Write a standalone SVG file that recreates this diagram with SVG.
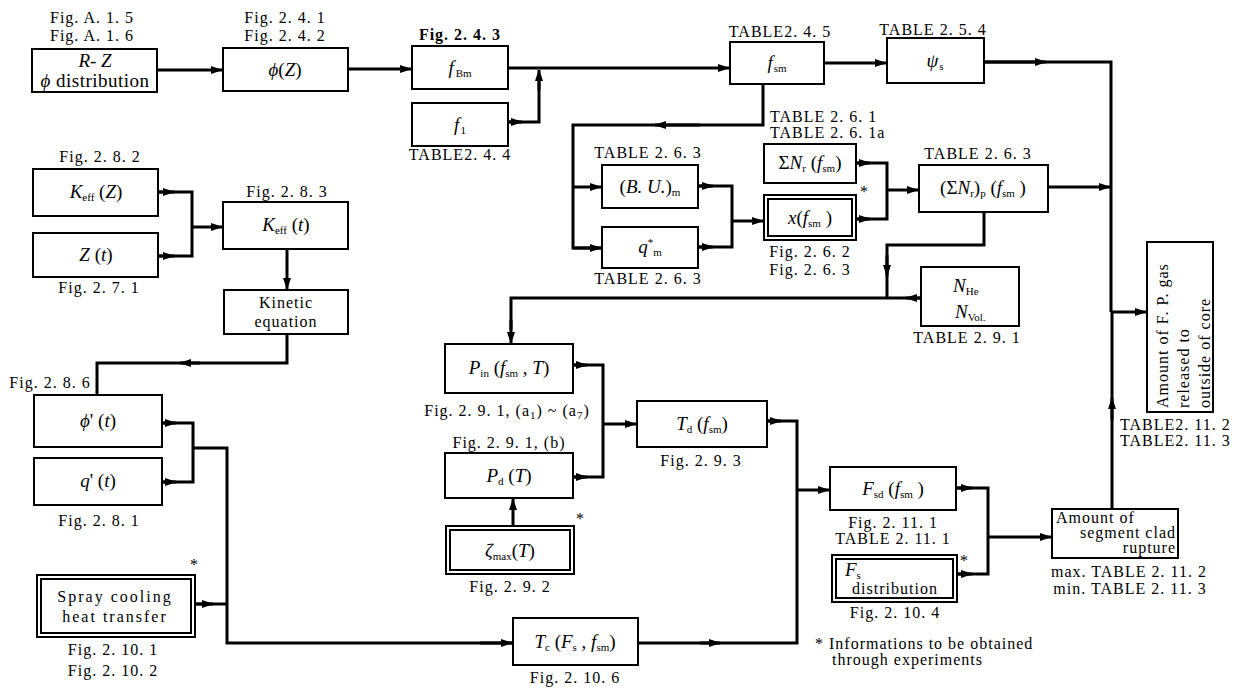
<svg xmlns="http://www.w3.org/2000/svg" width="1245" height="689" viewBox="0 0 1245 689" font-family="'Liberation Serif', 'DejaVu Serif', serif">
<defs>
<style>
.box{fill:#fff;stroke:#000;stroke-width:2}
.ln{fill:none;stroke:#000;stroke-width:3}
.ar{fill:none;stroke:#000;stroke-width:3;marker-end:url(#ah)}
.t{font-family:'Liberation Serif','DejaVu Serif',serif;font-size:16px;fill:#000;letter-spacing:1px}
.b{font-family:'Liberation Serif','DejaVu Serif',serif;font-size:19px;fill:#000}
.m{text-anchor:middle}
.e{text-anchor:end}
.i{font-style:italic}
.s{font-size:11px;font-style:normal}
.w{letter-spacing:2px}
</style>
<marker id="ah" viewBox="0 0 12 8" refX="11" refY="4" markerWidth="12" markerHeight="8" markerUnits="userSpaceOnUse" orient="auto">
<path d="M0,0 L12,4 L0,8 z" fill="#000"/>
</marker>
</defs>
<rect width="1245" height="689" fill="#fff"/>

<g id="connectors">
<path class="ar" d="M157,70 H222"/>
<path class="ar" d="M348,69 H411"/>
<path class="ar" d="M508,68 H729"/>
<path class="ln" d="M508,122 H539 V80"/>
<path class="ar" d="M539,90 V70"/>
<path class="ar" d="M508,122 H522"/>
<path class="ar" d="M824,63 H886"/>
<path class="ln" d="M984,62 H1111 V312"/>
<path class="ar" d="M984,62 H1046"/>
<path class="ln" d="M1112,509 V312"/>
<path class="ar" d="M1112,420 V398"/>
<path class="ar" d="M1111,312 H1146"/>
<path class="ar" d="M1048,187 H1110"/>
<path class="ln" d="M763,84 V125 H573 V248 H601"/>
<path class="ar" d="M700,125 H655"/>
<path class="ar" d="M573,187 H601"/>
<path class="ar" d="M573,248 H601"/>
<path class="ln" d="M698,186 H732 V247 H698"/>
<path class="ar" d="M698,186 H713"/>
<path class="ar" d="M698,247 H713"/>
<path class="ar" d="M732,221 H763"/>
<path class="ln" d="M856,163 H887 V219 H856"/>
<path class="ar" d="M856,163 H870"/>
<path class="ar" d="M856,219 H870"/>
<path class="ar" d="M887,190 H918"/>
<path class="ln" d="M984,212 V245 H887 V298"/>
<path class="ar" d="M887,255 V276"/>
<path class="ln" d="M921,298 H511 V330"/>
<path class="ar" d="M921,298 H906"/>
<path class="ar" d="M511,320 V343"/>
<path class="ln" d="M158,192 H192 V256 H158"/>
<path class="ar" d="M158,192 H174"/>
<path class="ar" d="M158,256 H174"/>
<path class="ar" d="M192,227 H222"/>
<path class="ar" d="M287,249 V289"/>
<path class="ln" d="M287,334 V363 H97 V395"/>
<path class="ar" d="M200,363 H180"/>
<path class="ln" d="M162,423 H193 V482 H162"/>
<path class="ar" d="M162,423 H176"/>
<path class="ar" d="M162,482 H176"/>
<path class="ln" d="M193,448 H227 V643 H512"/>
<path class="ln" d="M195,604 H227"/>
<path class="ar" d="M195,604 H213"/>
<path class="ar" d="M480,643 H512"/>
<path class="ln" d="M573,365 H603 V477 H573"/>
<path class="ar" d="M573,365 H587"/>
<path class="ar" d="M573,477 H587"/>
<path class="ar" d="M603,424 H636"/>
<path class="ar" d="M513,526 V499"/>
<path class="ln" d="M767,421 H797 V643 H638"/>
<path class="ar" d="M767,421 H781"/>
<path class="ar" d="M700,643 H720"/>
<path class="ar" d="M797,490 H829"/>
<path class="ln" d="M956,488 H988 V574 H957"/>
<path class="ar" d="M956,488 H972"/>
<path class="ar" d="M957,574 H972"/>
<path class="ar" d="M988,537 H1051"/>
</g>

<g id="n-rz">
<text class="t m" x="92" y="23">Fig. A. 1. 5</text>
<text class="t m" x="92" y="41">Fig. A. 1. 6</text>
<rect class="box" x="32" y="49" width="125" height="43"/>
<text class="b m i" x="95" y="67" font-size="18">R- Z</text>
<text class="b m" x="95" y="87" font-size="18" letter-spacing="0.5"><tspan class="i">ϕ</tspan> distribution</text>
</g>

<g id="n-phiz">
<text class="t m" x="285" y="23">Fig. 2. 4. 1</text>
<text class="t m" x="285" y="41">Fig. 2. 4. 2</text>
<rect class="box" x="223" y="48" width="125" height="43"/>
<text class="b m" x="285" y="76" font-size="20"><tspan class="i">ϕ</tspan>(<tspan class="i">Z</tspan>)</text>
</g>

<g id="n-fbm">
<text class="t m" x="460" y="40" font-weight="bold">Fig. 2. 4. 3</text>
<rect class="box" x="412" y="46" width="96" height="43"/>
<text class="b m" x="460" y="74"><tspan class="i">f</tspan><tspan class="s" dx="2" dy="3">Bm</tspan></text>
</g>

<g id="n-f1">
<rect class="box" x="412" y="103" width="96" height="43"/>
<text class="b m" x="460" y="131"><tspan class="i">f</tspan><tspan class="s" dx="1" dy="3">1</tspan></text>
<text class="t m" x="460" y="160">TABLE2. 4. 4</text>
</g>

<g id="n-fsm">
<text class="t m" x="780" y="37">TABLE2. 4. 5</text>
<rect class="box" x="730" y="42" width="94" height="42"/>
<text class="b m" x="777" y="69"><tspan class="i">f</tspan><tspan class="s" dx="1" dy="3">sm</tspan></text>
</g>

<g id="n-psi">
<text class="t m" x="933" y="35">TABLE 2. 5. 4</text>
<rect class="box" x="887" y="38" width="97" height="45"/>
<text class="b m" x="935" y="67"><tspan class="i">ψ</tspan><tspan class="s" dx="1" dy="3">s</tspan></text>
</g>

<g id="n-tables261">
<text class="t" x="770" y="122">TABLE 2. 6. 1</text>
<text class="t" x="770" y="138">TABLE 2. 6. 1a</text>
</g>

<g id="n-bu">
<text class="t m" x="648" y="158">TABLE 2. 6. 3</text>
<rect class="box" x="602" y="165" width="96" height="43"/>
<text class="b m" x="650" y="193">(<tspan class="i">B. U.</tspan>)<tspan class="s" dy="3">m</tspan></text>
</g>

<g id="n-qm">
<rect class="box" x="602" y="227" width="96" height="41"/>
<text class="b m" x="650" y="253"><tspan class="i">q</tspan><tspan class="s" dy="-7">*</tspan><tspan class="s" dy="10">m</tspan></text>
<text class="t m" x="648" y="284">TABLE 2. 6. 3</text>
</g>

<g id="n-sumnr">
<rect class="box" x="764" y="144" width="92" height="39"/>
<text class="b m" x="810" y="169" font-size="17">Σ<tspan class="i">N</tspan><tspan class="s" dy="3">r</tspan><tspan dy="-3"> (</tspan><tspan class="i">f</tspan><tspan class="s" dy="3">sm</tspan><tspan dy="-3">)</tspan></text>
</g>

<g id="n-x">
<rect class="box" x="764" y="195" width="92" height="45"/>
<rect class="box" x="768" y="199" width="84" height="37"/>
<text class="b m" x="810" y="224"><tspan class="i">x</tspan>(<tspan class="i">f</tspan><tspan class="s" dy="3">sm</tspan><tspan dy="-3"> )</tspan></text>
<text class="t" x="860" y="197" font-size="13">*</text>
<text class="t m" x="810" y="257">Fig. 2. 6. 2</text>
<text class="t m" x="810" y="275">Fig. 2. 6. 3</text>
</g>

<g id="n-sumnrp">
<text class="t m" x="978" y="159">TABLE 2. 6. 3</text>
<rect class="box" x="919" y="165" width="129" height="47"/>
<text class="b m" x="983" y="194" font-size="18">(Σ<tspan class="i">N</tspan><tspan class="s" dy="3">r</tspan><tspan dy="-3">)</tspan><tspan class="s" dy="3">p</tspan><tspan dy="-3">  (</tspan><tspan class="i">f</tspan><tspan class="s" dy="3">sm</tspan><tspan dy="-3"> )</tspan></text>
</g>

<g id="n-nhe">
<rect class="box" x="921" y="267" width="98" height="59"/>
<text class="b" x="953" y="292"><tspan class="i">N</tspan><tspan class="s" dy="3">He</tspan></text>
<text class="b" x="955" y="318"><tspan class="i">N</tspan><tspan class="s" dy="3">Vol.</tspan></text>
<text class="t m" x="967" y="343">TABLE 2. 9. 1</text>
</g>

<g id="n-final">
<rect class="box" x="1147" y="242" width="66" height="170"/>
<text class="t" font-size="17" transform="translate(1168,408) rotate(-90)">Amount of F. P. gas</text>
<text class="t" font-size="17" transform="translate(1189,408) rotate(-90)">released to</text>
<text class="t" font-size="17" transform="translate(1210,408) rotate(-90)">outside of core</text>
<text class="t" x="1120" y="430">TABLE2. 11. 2</text>
<text class="t" x="1120" y="446">TABLE2. 11. 3</text>
</g>

<g id="n-keffz">
<text class="t m" x="100" y="162">Fig. 2. 8. 2</text>
<rect class="box" x="33" y="169" width="125" height="47"/>
<text class="b m" x="96" y="198"><tspan class="i">K</tspan><tspan class="s" dy="3">eff</tspan><tspan dy="-3">  (</tspan><tspan class="i">Z</tspan>)</text>
</g>

<g id="n-zt">
<rect class="box" x="33" y="233" width="125" height="44"/>
<text class="b m" x="96" y="261"><tspan class="i">Z</tspan>  (<tspan class="i">t</tspan>)</text>
<text class="t m" x="99" y="293">Fig. 2. 7. 1</text>
</g>

<g id="n-kefft">
<text class="t m" x="287" y="197">Fig. 2. 8. 3</text>
<rect class="box" x="223" y="202" width="125" height="47"/>
<text class="b m" x="286" y="231"><tspan class="i">K</tspan><tspan class="s" dy="3">eff</tspan><tspan dy="-3"> (</tspan><tspan class="i">t</tspan>)</text>
</g>

<g id="n-kinetic">
<rect class="box" x="224" y="290" width="124" height="44"/>
<text class="t m" x="286" y="308">Kinetic</text>
<text class="t m" x="286" y="327">equation</text>
</g>

<g id="n-phit">
<text class="t m" x="50" y="388">Fig. 2. 8. 6</text>
<rect class="box" x="34" y="395" width="128" height="52"/>
<text class="b m" x="98" y="427"><tspan class="i">ϕ</tspan>' (<tspan class="i">t</tspan>)</text>
</g>

<g id="n-qt">
<rect class="box" x="34" y="458" width="128" height="47"/>
<text class="b m" x="98" y="487"><tspan class="i">q</tspan>' (<tspan class="i">t</tspan>)</text>
<text class="t m" x="99" y="526">Fig. 2. 8. 1</text>
</g>

<g id="n-spray">
<rect class="box" x="37" y="575" width="158" height="62"/>
<rect class="box" x="41" y="579" width="150" height="54"/>
<text class="t m w" x="115" y="602">Spray cooling</text>
<text class="t m w" x="115" y="622">heat transfer</text>
<text class="t" x="190" y="570" font-size="13">*</text>
<text class="t m" x="113" y="655">Fig. 2. 10. 1</text>
<text class="t m" x="113" y="676">Fig. 2. 10. 2</text>
</g>

<g id="n-pin">
<rect class="box" x="445" y="344" width="128" height="49"/>
<text class="b m" x="509" y="374" font-size="18"><tspan class="i">P</tspan><tspan class="s" dy="3">in</tspan><tspan dy="-3"> (</tspan><tspan class="i">f</tspan><tspan class="s" dy="3">sm</tspan><tspan dy="-3"> , </tspan><tspan class="i">T</tspan>)</text>
<text class="t m" x="507" y="416">Fig. 2. 9. 1, (a<tspan class="s" dy="3">1</tspan><tspan dy="-3">) ~ (a</tspan><tspan class="s" dy="3">7</tspan><tspan dy="-3">)</tspan></text>
</g>

<g id="n-pd">
<text class="t m" x="509" y="448">Fig. 2. 9. 1, (b)</text>
<rect class="box" x="445" y="453" width="128" height="45"/>
<text class="b m" x="509" y="482"><tspan class="i">P</tspan><tspan class="s" dy="3">d</tspan><tspan dy="-3">  (</tspan><tspan class="i">T</tspan>)</text>
</g>

<g id="n-zeta">
<rect class="box" x="446" y="526" width="128" height="48"/>
<rect class="box" x="450" y="530" width="120" height="40"/>
<text class="b m" x="510" y="557"><tspan class="i">ζ</tspan><tspan class="s" dy="3">max</tspan><tspan dy="-3">(</tspan><tspan class="i">T</tspan>)</text>
<text class="t" x="576" y="524" font-size="13">*</text>
<text class="t m" x="510" y="592">Fig. 2. 9. 2</text>
</g>

<g id="n-td">
<rect class="box" x="637" y="401" width="130" height="46"/>
<text class="b m" x="702" y="430"><tspan class="i">T</tspan><tspan class="s" dy="3">d</tspan><tspan dy="-3"> (</tspan><tspan class="i">f</tspan><tspan class="s" dy="3">sm</tspan><tspan dy="-3">)</tspan></text>
<text class="t m" x="701" y="466">Fig. 2. 9. 3</text>
</g>

<g id="n-tc">
<rect class="box" x="513" y="618" width="125" height="47"/>
<text class="b m" x="575" y="648" font-size="18"><tspan class="i">T</tspan><tspan class="s" dy="3">c</tspan><tspan dy="-3"> (</tspan><tspan class="i">F</tspan><tspan class="s" dy="3">s</tspan><tspan dy="-3"> , </tspan><tspan class="i">f</tspan><tspan class="s" dy="3">sm</tspan><tspan dy="-3">)</tspan></text>
<text class="t m" x="575" y="683">Fig. 2. 10. 6</text>
</g>

<g id="n-fsd">
<rect class="box" x="830" y="467" width="126" height="43"/>
<text class="b m" x="893" y="495"><tspan class="i">F</tspan><tspan class="s" dy="3">sd</tspan><tspan dy="-3"> (</tspan><tspan class="i">f</tspan><tspan class="s" dy="3">sm</tspan><tspan dy="-3"> )</tspan></text>
<text class="t m" x="893" y="528">Fig. 2. 11. 1</text>
<text class="t m" x="893" y="544">TABLE 2. 11. 1</text>
</g>

<g id="n-fs">
<rect class="box" x="832" y="555" width="125" height="47"/>
<rect class="box" x="836" y="559" width="117" height="39"/>
<text class="b" x="845" y="576"><tspan class="i">F</tspan><tspan class="s" dy="3">s</tspan></text>
<text class="t m" x="895" y="594" letter-spacing="1.6">distribution</text>
<text class="t" x="960" y="566" font-size="13">*</text>
<text class="t m" x="895" y="618">Fig. 2. 10. 4</text>
</g>

<g id="n-amount">
<rect class="box" x="1052" y="509" width="126" height="49"/>
<text class="t" x="1056" y="523">Amount  of</text>
<text class="t e" x="1176" y="538">segment clad</text>
<text class="t e" x="1176" y="553">rupture</text>
<text class="t m" x="1129" y="577">max. TABLE 2. 11. 2</text>
<text class="t m" x="1130" y="594">min. TABLE 2. 11. 3</text>
</g>

<g id="note">
<text class="t" x="815" y="649" font-size="17" letter-spacing="1.4">*  Informations to be obtained</text>
<text class="t" x="832" y="665" font-size="17" letter-spacing="1.4">through experiments</text>
</g>
</svg>
